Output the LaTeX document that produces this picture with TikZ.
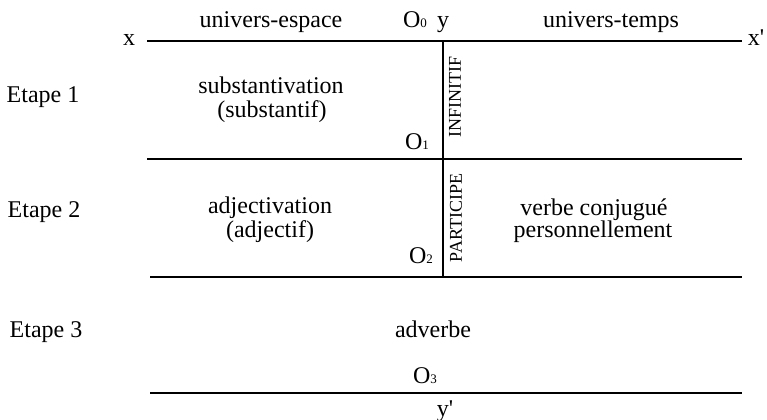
\documentclass[tikz,border=0pt]{standalone}
\usepackage{fontspec}
\setmainfont{Liberation Serif}
\usetikzlibrary{positioning,calc}
\newcommand{\Onum}[1]{O{\fontsize{6.5}{7}\selectfont #1}}

\begin{document}
\begin{tikzpicture}[x=0.5pt,y=-0.5pt,
		axe/.style={line width=1pt},
		lab/.style={inner sep=0pt,anchor=base,font=\fontsize{12}{14}\selectfont},
		mode/.style={inner sep=0pt,rotate=90,font=\fontsize{9}{9}\selectfont}]
		\useasboundingbox (0,0) rectangle (767,419);
		
		\coordinate (xa) at (147,41);
		\coordinate (xb) at (742,41);
		\coordinate (la) at (147,159);
		\coordinate (lb) at (742,159);
		\coordinate (ma) at (150,277);
		\coordinate (mb) at (742,277);
		\coordinate (ba) at (150,393);
		\coordinate (bb) at (742,393);
		\coordinate (vt) at (443,41);
		\coordinate (vb) at (443,277);
		
		\draw[axe] (xa) -- (xb);
		\draw[axe] (la) -- (lb);
		\draw[axe] (ma) -- (mb);
		\draw[axe] (ba) -- (bb);
		\draw[axe] (vt) -- (vb);
		
		\node[lab] (xl) at (129,45) {x};
		\node[lab] (xr) at (756,45) {x\textquotesingle};
		\node[lab] (espace) at (271,27) {univers-espace};
		\node[lab] (temps) at (611,27) {univers-temps};
		\node[lab] (o0) at (415,27) {\Onum{0}};
		\node[lab] (yt) at (443,27) {y};
		\node[lab] (yb) at (445,416) {y\textquotesingle};
		
		\node[lab] (et1) at (43,102) {Etape 1};
		\node[lab] (et2) at (44,217) {Etape 2};
		\node[lab] (et3) at (46,337) {Etape 3};
		
		\node[lab] (subst) at (271,93) {substantivation};
		\node[lab] (substb) at (272,117) {(substantif)};
		\node[lab] (adj) at (270,213) {adjectivation};
		\node[lab] (adjb) at (270,237) {(adjectif)};
		\node[lab] (verbe) at (594,215) {verbe conjugué};
		\node[lab] (verbeb) at (593,237) {personnellement};
		\node[lab] (adv) at (433,337) {adverbe};
		
		\node[lab] (o1) at (417,149) {\Onum{1}};
		\node[lab] (o2) at (421,263) {\Onum{2}};
		\node[lab] (o3) at (425,383) {\Onum{3}};
		
		\node[mode] (inf) at (455,97) {INFINITIF};
		\node[mode] (part) at (456,218) {PARTICIPE};
	\end{tikzpicture}
\end{document}
